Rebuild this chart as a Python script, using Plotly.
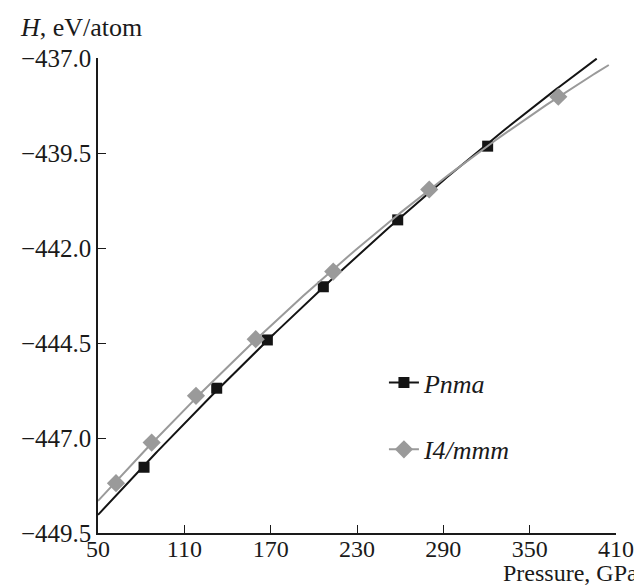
import numpy as np
import plotly.graph_objects as go

# ---- data ----
pressure_pnma = [82.0, 132.5, 167.7, 206.6, 258.3, 320.8, 396.6]
H_pnma = [-447.77, -445.69, -444.42, -443.02, -441.26, -439.32, -436.98]

pressure_i4mmm = [62.5, 87.3, 118.1, 159.6, 213.5, 280.2, 369.9]
H_i4mmm = [-448.19, -447.12, -445.89, -444.40, -442.62, -440.46, -438.02]

series_names = ["<i>Pnma</i>", "<i>I4/mmm</i>"]
x_ticks = [50, 110, 170, 230, 290, 350, 410]
y_ticks = [-449.5, -447.0, -444.5, -442.0, -439.5, -437.0]

# trend-line extents (GPa)
fit_span_pnma = (50, 396.6)
fit_span_i4mmm = (50, 405)

BLACK = "#141414"
GRAY = "#9a9a9a"
FONT = "Liberation Serif"


def trend(xs, ys, span):
    c = np.polyfit(xs, ys, 2)
    xx = np.linspace(span[0], span[1], 200)
    return xx, np.polyval(c, xx)


fig = go.Figure()

for xs, ys, span, color, sym, size, name, grp in [
    (pressure_pnma, H_pnma, fit_span_pnma, BLACK, "square", 11, series_names[0], "a"),
    (pressure_i4mmm, H_i4mmm, fit_span_i4mmm, GRAY, "diamond", 14, series_names[1], "b"),
]:
    tx, ty = trend(xs, ys, span)
    fig.add_trace(go.Scatter(x=tx, y=ty, mode="lines", line=dict(color=color, width=2),
                             showlegend=False, hoverinfo="skip", cliponaxis=False))
    fig.add_trace(go.Scatter(x=xs, y=ys, mode="markers",
                             marker=dict(symbol=sym, size=size, color=color, line=dict(width=0)),
                             showlegend=False, cliponaxis=False))
    # legend entry
    fig.add_trace(go.Scatter(x=[None], y=[None], mode="lines+markers", name=name,
                             legendgroup=grp,
                             line=dict(color=color, width=2),
                             marker=dict(symbol=sym, size=size, color=color, line=dict(width=0))))

# page body has an 8px margin, so the figure is sized to fit the window
fig.update_layout(
    width=634, height=577,
    margin=dict(l=90, r=26, t=50, b=52),
    paper_bgcolor="white", plot_bgcolor="white",
    font=dict(family=FONT, size=25, color="#1a1a1a"),
    showlegend=True,
    legend=dict(x=0.552, y=0.366, xanchor="left", yanchor="top",
                bgcolor="rgba(0,0,0,0)", font=dict(family=FONT, size=26),
                tracegroupgap=30, itemwidth=30),
    xaxis=dict(range=[50, 410], tickvals=x_ticks, ticks="inside", ticklen=8,
               tickcolor="#1a1a1a", showline=True, linecolor="#1a1a1a", linewidth=1.5,
               showgrid=False, zeroline=False, tickfont=dict(size=24, family=FONT),
               ticklabelstandoff=-7, automargin=False),
    yaxis=dict(range=[-449.5, -437.0], tickvals=y_ticks, tickformat=".1f", ticks="inside",
               ticklen=8, tickcolor="#1a1a1a", showline=True, linecolor="#1a1a1a",
               linewidth=1.5, showgrid=False, zeroline=False,
               tickfont=dict(size=25, family=FONT), automargin=False),
    annotations=[
        dict(text="<i>H</i>, eV/atom", xref="paper", yref="paper", x=-0.154, y=1.0,
             xanchor="left", yanchor="bottom", yshift=14, showarrow=False,
             font=dict(family=FONT, size=26)),
        dict(text="Pressure, GPa", xref="paper", yref="paper", x=1.044, y=0,
             xanchor="right", yanchor="top", yshift=-26, showarrow=False, borderpad=0,
             font=dict(family=FONT, size=24)),
    ],
)

fig.write_html("out.html")
